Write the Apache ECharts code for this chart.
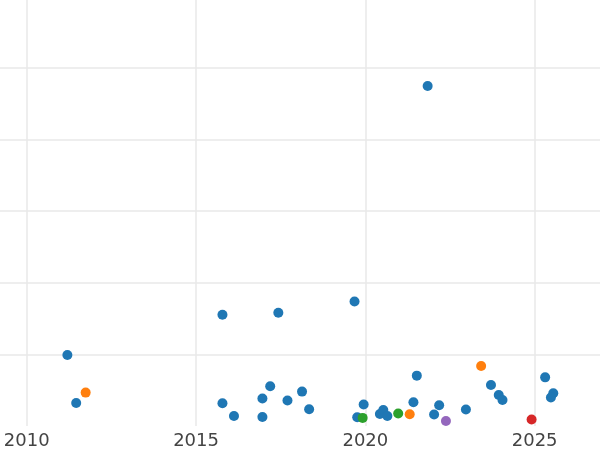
<!DOCTYPE html>
<html>
<head>
<meta charset="utf-8">
<script src="https://cdn.jsdelivr.net/npm/echarts@6/dist/echarts.min.js"></script>
<style>html,body{margin:0;padding:0;background:#fff}#c{width:600px;height:450px}</style>
</head>
<body>
<div id="c"></div>
<script>
// x tick labels (years) shown on the axis
var xTicks = [2010, 2015, 2020, 2025];

// Series values: [year, value]
var blueData = [
  [2011.20, 0.990], [2011.46, 0.321], [2015.78, 1.553], [2017.43, 1.580],
  [2017.19, 0.554], [2015.78, 0.317], [2016.96, 0.383], [2018.13, 0.480],
  [2017.70, 0.355], [2016.12, 0.140], [2016.96, 0.126], [2018.34, 0.234],
  [2019.68, 1.738], [2021.52, 0.703], [2019.95, 0.299], [2019.76, 0.122],
  [2020.43, 0.168], [2020.53, 0.224], [2020.65, 0.140], [2021.42, 0.331],
  [2022.03, 0.160], [2022.18, 0.289], [2023.71, 0.572], [2023.94, 0.433],
  [2024.05, 0.363], [2022.97, 0.230], [2025.31, 0.679], [2025.55, 0.457],
  [2025.48, 0.397], [2021.84, 4.746]
];
var orangeData = [[2011.74, 0.466], [2021.31, 0.164], [2023.42, 0.837]];
var greenData = [[2019.92, 0.113], [2020.97, 0.174]];
var purpleData = [[2022.38, 0.071]];
var redData = [[2024.91, 0.090]];

var seriesList = [
  {data: blueData, color: '#1f77b4'},
  {data: orangeData, color: '#ff7f0e'},
  {data: greenData, color: '#2ca02c'},
  {data: purpleData, color: '#9467bd'},
  {data: redData, color: '#d62728'}
];

var chart = echarts.init(document.getElementById('c'), null, {renderer: 'canvas'});
chart.setOption({
  animation: false,
  backgroundColor: '#fff',
  grid: {left: 0, right: 0, top: 0, bottom: 23, containLabel: false},
  xAxis: {
    type: 'value', min: 2009.21, max: 2026.93, splitNumber: 4,
    axisLine: {show: false}, axisTick: {show: false},
    axisLabel: {
      color: '#444', fontSize: 18, fontFamily: 'DejaVu Sans', margin: 6,
      showMinLabel: false, showMaxLabel: false, hideOverlap: false,
      formatter: function (v) { return xTicks.indexOf(Math.round(v * 100) / 100) >= 0 ? String(Math.round(v)) : ''; }
    },
    splitLine: {show: true, showMinLine: false, showMaxLine: false, lineStyle: {color: '#e8e8e8', width: 1.5}}
  },
  yAxis: {
    type: 'value', min: 0, max: 5.947, interval: 1,
    axisLine: {show: false}, axisTick: {show: false}, axisLabel: {show: false},
    splitLine: {show: true, showMinLine: false, showMaxLine: false, lineStyle: {color: '#e8e8e8', width: 1.5}}
  },
  series: seriesList.map(function (s) {
    return {
      type: 'scatter', data: s.data, symbolSize: 10,
      itemStyle: {color: s.color, opacity: 1}
    };
  })
});
</script>
</body>
</html>
